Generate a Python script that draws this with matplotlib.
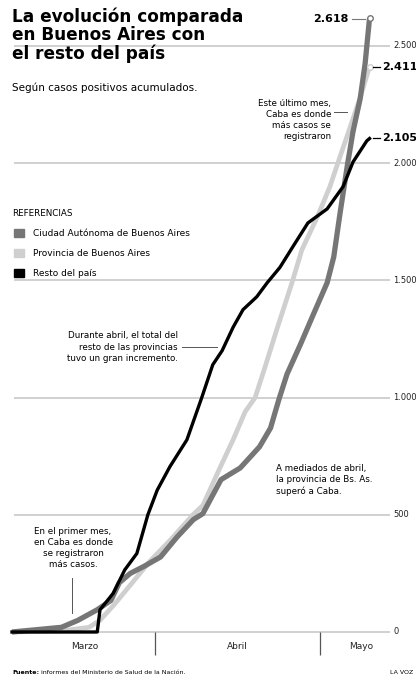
import matplotlib
matplotlib.use('Agg')
import matplotlib.pyplot as plt
from matplotlib.patches import Rectangle

plt.rcParams['font.family'] = ['DejaVu Sans']

# dias contados desde el 1 de marzo (0 = 1/3)
dias_caba = [5, 14, 17, 20.5, 23, 24.5, 26.5, 29, 32, 35, 38, 39.7, 43, 46.5, 50, 52,
             53.5, 55, 57.5, 59.7, 62.3, 63.5, 64.6, 66, 67, 68.3, 69.2, 70]
caba = [0, 20, 50, 95, 135, 210, 250, 280, 320, 405, 480, 505, 650, 700, 790, 870,
        990, 1100, 1230, 1350, 1490, 1600, 1780, 1995, 2135, 2275, 2425, 2618]

dias_prov = [5, 14, 19, 21, 23.7, 26.5, 30, 33.7, 37.9, 39.7, 42.8, 45.2, 47.4, 49.2,
             51, 53, 55.9, 57.7, 60.5, 62.8, 64.6, 66.5, 68.3, 70]
prov = [0, 5, 20, 50, 120, 200, 300, 390, 500, 540, 700, 820, 940, 1000,
        1130, 1280, 1490, 1630, 1770, 1900, 2025, 2155, 2280, 2411]

dias_resto = [5, 20.5, 21, 23.4, 25.5, 27.7, 29.7, 31.4, 33.7, 36.8, 39.5, 41.5, 43.2,
              45.2, 47, 49.5, 51.4, 53.7, 56.1, 58.8, 62.3, 65.2, 67, 69.5, 70]
resto = [0, 0, 95, 165, 265, 335, 500, 605, 705, 820, 1000, 1140, 1200,
         1300, 1375, 1430, 1490, 1555, 1645, 1745, 1805, 1900, 2005, 2095, 2105]

ticks_y = [0, 500, 1000, 1500, 2000, 2500]
ticks_lbl = ['0', '500', '1.000', '1.500', '2.000', '2.500']
meses = ['Marzo', 'Abril', 'Mayo']
meses_pos = [18.2, 46, 68.5]
limites_mes = [31, 61]

series = ['Ciudad Autónoma de Buenos Aires', 'Provincia de Buenos Aires', 'Resto del país']
colores = ['#767676', '#cfcfcf', '#000000']

W, H = 416, 676
fig = plt.figure(figsize=(W / 100, H / 100), dpi=100)
ax = fig.add_axes([0, 0, 1, 1])
ax.set_xlim(2.82, 78.45)
ax.set_ylim(-187.7, 2696)
ax.axis('off')


def px(x, y):
    return x / W, 1 - y / H


# grilla
x_ini, x_fin = 5.4, 73.7
ax.hlines(ticks_y, x_ini, x_fin, color='#c4c4c4', lw=1.1, zorder=1)
for v, t in zip(ticks_y, ticks_lbl):
    ax.text(74.3, v, t, fontsize=6, va='center', ha='left', color='#222222')

# separadores de meses
ax.vlines(limites_mes, -100, 0, color='#555555', lw=0.9)
for m, p in zip(meses, meses_pos):
    ax.text(p, -60, m, fontsize=6.5, ha='center', va='center', color='#222222')

# lineas
ax.plot(dias_prov, prov, color=colores[1], lw=3.4, solid_capstyle='butt', zorder=3)
ax.plot(dias_caba, caba, color=colores[0], lw=3.8, solid_capstyle='butt', zorder=4)
ax.plot(dias_resto, resto, color=colores[2], lw=2.4, zorder=5)
ax.plot(dias_caba[-1], caba[-1], 'o', ms=4, mfc='white', mec=colores[0], mew=1, zorder=6)
ax.plot(dias_prov[-1], prov[-1], 'o', ms=4, mfc='white', mec=colores[1], mew=1, zorder=6)

# etiquetas finales
fig.text(*px(348, 19), '2.618', fontsize=8, fontweight='bold', ha='right', va='center')
fig.add_artist(plt.Line2D([352 / W, 365 / W], [1 - 19 / H] * 2, color='#777777', lw=0.8))
for val, yy in [('2.411', 67), ('2.105', 138)]:
    fig.add_artist(plt.Line2D([373 / W, 380 / W], [1 - yy / H] * 2, color='#000000', lw=0.9))
    fig.text(*px(382, yy), val, fontsize=8, fontweight='bold', ha='left', va='center')

# titulo
fig.text(*px(12, 7), 'La evolución comparada\nen Buenos Aires con\nel resto del país',
         fontsize=12.2, fontweight='bold', ha='left', va='top', linespacing=1.05)
fig.text(*px(12, 88), 'Según casos positivos acumulados.', fontsize=7.5, ha='left', va='center')

# referencias
fig.text(*px(12, 214), 'REFERENCIAS', fontsize=6.3, ha='left', va='center')
for i, (s, c) in enumerate(zip(series, colores)):
    y = 233 + 20 * i
    fig.add_artist(Rectangle(px(14, y + 4), 10 / W, 8 / H, color=c, transform=fig.transFigure))
    fig.text(*px(33, y), s, fontsize=6.5, ha='left', va='center')

# anotaciones
fig.text(*px(331, 120), 'Este último mes,\nCaba es donde\nmás casos se\nregistraron',
         fontsize=6.3, ha='right', va='center', linespacing=1.3)
fig.add_artist(plt.Line2D([334 / W, 347 / W], [1 - 112 / H] * 2, color='#555555', lw=0.7))

fig.text(*px(178, 347), 'Durante abril, el total del\nresto de las provincias\ntuvo un gran incremento.',
         fontsize=6.3, ha='right', va='center', linespacing=1.3)
fig.add_artist(plt.Line2D([182 / W, 217 / W], [1 - 347 / H] * 2, color='#555555', lw=0.7))

fig.text(*px(276, 480), 'A mediados de abril,\nla provincia de Bs. As.\nsuperó a Caba.',
         fontsize=6.3, ha='left', va='center', linespacing=1.3)

fig.text(*px(73, 548), 'En el primer mes,\nen Caba es donde\nse registraron\nmás casos.',
         fontsize=6.3, ha='center', va='center', linespacing=1.3)
fig.add_artist(plt.Line2D([72 / W] * 2, [1 - 578 / H, 1 - 613 / H], color='#555555', lw=0.7))

# fuente
fig.text(*px(12, 672), 'Fuente:', fontsize=4.5, fontweight='bold', ha='left', va='center')
fig.text(*px(41, 672), 'informes del Ministerio de Salud de la Nación.', fontsize=4.5,
         ha='left', va='center')
fig.text(*px(413, 672), 'LA VOZ', fontsize=4.5, ha='right', va='center')

fig.savefig('out.png', dpi=100)
